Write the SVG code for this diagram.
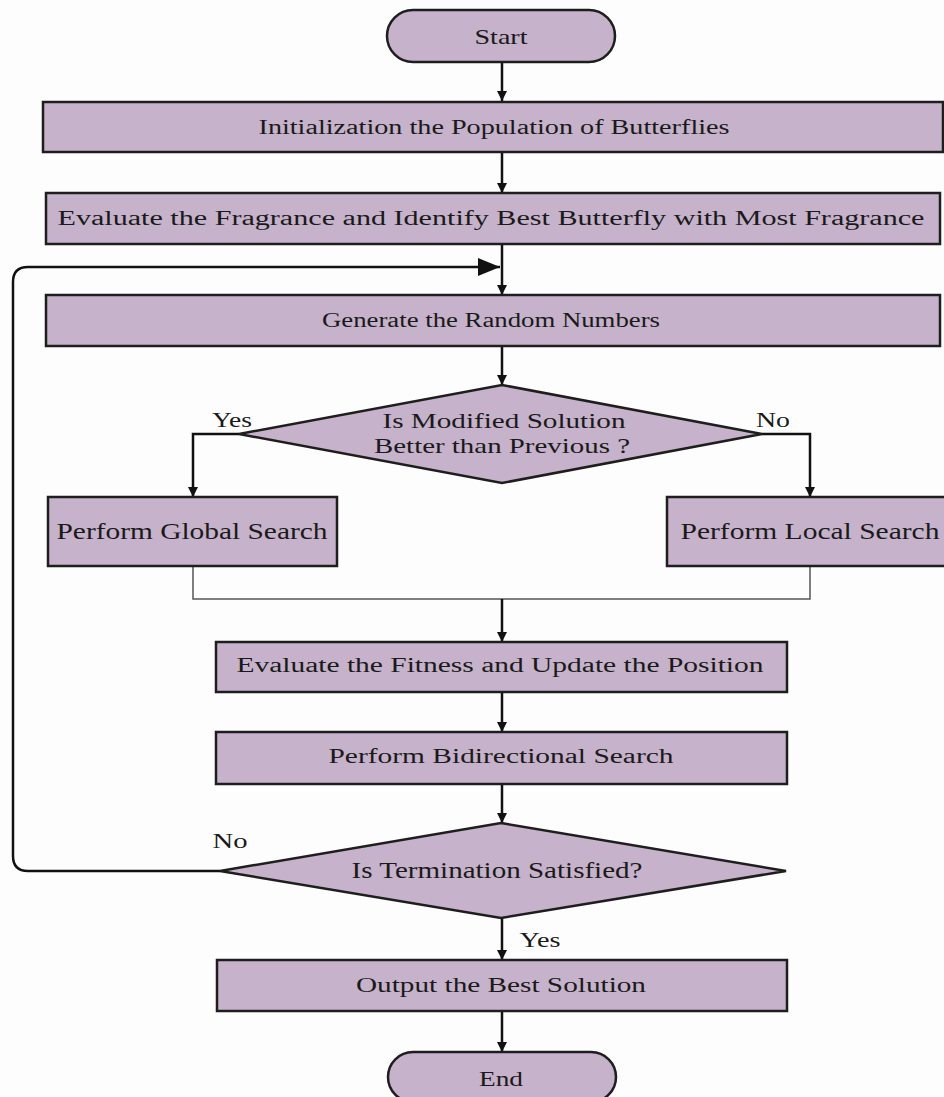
<svg xmlns="http://www.w3.org/2000/svg" width="944" height="1097" viewBox="0 0 944 1097">
<defs>
<style>
.n{fill:#c6b2ca;stroke:#1e1e1e;stroke-width:2.5}
.t{font-family:"Liberation Serif","Times New Roman",serif;font-size:20px;fill:#1a1a1a;text-anchor:middle}
.c{fill:none;stroke:#111;stroke-width:2.5}
.bus{fill:none;stroke:#555;stroke-width:1.5}
</style>
<marker id="ah" viewBox="0 0 10 10" refX="10" refY="5" markerWidth="10" markerHeight="10" markerUnits="userSpaceOnUse" orient="auto">
<path d="M0,0 L10,5 L0,10 Z" fill="#111"/>
</marker>
<marker id="big" viewBox="0 0 10 10" refX="10" refY="5" markerWidth="22" markerHeight="18" markerUnits="userSpaceOnUse" orient="auto" preserveAspectRatio="none">
<path d="M0,0 L10,5 L0,10 Z" fill="#111"/>
</marker>
</defs>
<rect width="944" height="1097" fill="#fdfdfd"/>
<g id="connectors">
<line class="c" x1="502" y1="62" x2="502" y2="101" marker-end="url(#ah)"/>
<line class="c" x1="502" y1="152" x2="502" y2="193" marker-end="url(#ah)"/>
<line class="c" x1="502" y1="244" x2="502" y2="295" marker-end="url(#ah)"/>
<line class="c" x1="502" y1="346" x2="502" y2="385" marker-end="url(#ah)"/>
<path class="c" d="M239,434 H193 V497" marker-end="url(#ah)"/>
<path class="c" d="M762,434 H810 V497" marker-end="url(#ah)"/>
<path class="bus" d="M193,566 V599 H810 V566"/>
<line class="c" x1="502" y1="599" x2="502" y2="642" marker-end="url(#ah)"/>
<line class="c" x1="502" y1="692" x2="502" y2="732" marker-end="url(#ah)"/>
<line class="c" x1="502" y1="784" x2="502" y2="823" marker-end="url(#ah)"/>
<line class="c" x1="502" y1="918" x2="502" y2="960" marker-end="url(#ah)"/>
<line class="c" x1="502" y1="1011" x2="502" y2="1052" marker-end="url(#ah)"/>
<path class="c" d="M220,871 H28 Q13,871 13,856 V282 Q13,267 28,267 H500" stroke-width="3" marker-end="url(#big)"/>
<text class="t" x="232" y="427" textLength="40" lengthAdjust="spacingAndGlyphs">Yes</text>
<text class="t" x="773" y="427" textLength="34" lengthAdjust="spacingAndGlyphs">No</text>
<text class="t" x="230" y="848" textLength="35" lengthAdjust="spacingAndGlyphs">No</text>
<text class="t" x="540" y="947" textLength="41" lengthAdjust="spacingAndGlyphs">Yes</text>
</g>
<g id="start">
<rect class="n" x="387" y="10" width="228" height="52" rx="26"/>
<text class="t" x="501" y="44" style="font-size:21px" textLength="53" lengthAdjust="spacingAndGlyphs">Start</text>
</g>
<g id="init">
<rect class="n" x="43" y="102" width="900" height="50"/>
<text class="t" x="494" y="134" textLength="471" lengthAdjust="spacingAndGlyphs">Initialization the Population of Butterflies</text>
</g>
<g id="evalFrag">
<rect class="n" x="46" y="193" width="894" height="51"/>
<text class="t" x="491" y="225" textLength="867" lengthAdjust="spacingAndGlyphs">Evaluate the Fragrance and Identify Best Butterfly with Most Fragrance</text>
</g>
<g id="genRand">
<rect class="n" x="46" y="295" width="894" height="51"/>
<text class="t" x="491" y="327" textLength="338" lengthAdjust="spacingAndGlyphs">Generate the Random Numbers</text>
</g>
<g id="decision1">
<polygon class="n" points="502,385 762,434 502,483 239,434"/>
<text class="t" x="504" y="428" style="font-size:21px" textLength="243" lengthAdjust="spacingAndGlyphs">Is Modified Solution</text>
<text class="t" x="502" y="453" style="font-size:21px" textLength="256" lengthAdjust="spacingAndGlyphs">Better than Previous ?</text>
</g>
<g id="global">
<rect class="n" x="48" y="497" width="289" height="69"/>
<text class="t" x="192" y="539" style="font-size:23px" textLength="271" lengthAdjust="spacingAndGlyphs">Perform Global Search</text>
</g>
<g id="local">
<rect class="n" x="667" y="497" width="280" height="69"/>
<text class="t" x="810" y="539" style="font-size:23px" textLength="259" lengthAdjust="spacingAndGlyphs">Perform Local Search</text>
</g>
<g id="evalFit">
<rect class="n" x="216" y="642" width="571" height="50"/>
<text class="t" x="500" y="672" textLength="527" lengthAdjust="spacingAndGlyphs">Evaluate the Fitness and Update the Position</text>
</g>
<g id="bidir">
<rect class="n" x="216" y="732" width="571" height="52"/>
<text class="t" x="501" y="763" textLength="345" lengthAdjust="spacingAndGlyphs">Perform Bidirectional Search</text>
</g>
<g id="decision2">
<polygon class="n" points="501,823 786,871 501,918 220,871"/>
<text class="t" x="497" y="878" style="font-size:23px" textLength="291" lengthAdjust="spacingAndGlyphs">Is Termination Satisfied?</text>
</g>
<g id="output">
<rect class="n" x="217" y="960" width="570" height="51"/>
<text class="t" x="501" y="992" textLength="290" lengthAdjust="spacingAndGlyphs">Output the Best Solution</text>
</g>
<g id="end">
<rect class="n" x="388" y="1052" width="228" height="50" rx="25"/>
<text class="t" x="501" y="1086" style="font-size:21px" textLength="44" lengthAdjust="spacingAndGlyphs">End</text>
</g>
</svg>
